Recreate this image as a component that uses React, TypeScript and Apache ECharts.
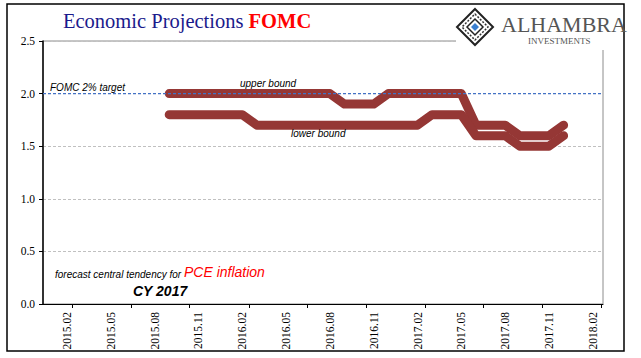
import React, { useEffect, useRef } from "react";
import * as echarts from "echarts";

// month index: 0 = 2015.02
const monthIndex = [7, 8, 9, 10, 11, 12, 13, 14, 15, 16, 17, 18, 19, 20, 21, 22, 23, 24, 25, 26, 27, 28, 29, 30, 31, 32, 33, 34];
const upperBound = [2.0, 2.0, 2.0, 2.0, 2.0, 2.0, 2.0, 2.0, 2.0, 2.0, 2.0, 2.0, 1.9, 1.9, 1.9, 2.0, 2.0, 2.0, 2.0, 2.0, 2.0, 1.7, 1.7, 1.7, 1.6, 1.6, 1.6, 1.7];
const lowerBound = [1.8, 1.8, 1.8, 1.8, 1.8, 1.8, 1.7, 1.7, 1.7, 1.7, 1.7, 1.7, 1.7, 1.7, 1.7, 1.7, 1.7, 1.7, 1.8, 1.8, 1.8, 1.6, 1.6, 1.6, 1.5, 1.5, 1.5, 1.6];
const labelValues = [0, 3, 6, 9, 12, 15, 18, 21, 24, 27, 30, 33, 36];
const tickLabels = ["2015.02", "2015.05", "2015.08", "2015.11", "2016.02", "2016.05", "2016.08", "2016.11", "2017.02", "2017.05", "2017.08", "2017.11", "2018.02"];
const tickValues = [0.34, 4.4, 8.4, 12.45, 16.45, 20.5, 24.55, 28.5, 32.55, 36.6];
const targetValue = 2.0;
const xMin = -1.64;
const xMax = 36.7;

export default function App() {
  const ref = useRef<HTMLDivElement>(null);
  useEffect(() => {
    if (!ref.current) return;
    const chart = echarts.init(ref.current, null, { renderer: "svg" });
    const lineColor = "#953735";
    const grey = "#c0c0c0";
    const labelMap: Record<string, string> = {};
    labelValues.forEach((v, i) => (labelMap[String(v)] = tickLabels[i]));
    chart.setOption({
      animation: false,
      backgroundColor: "#ffffff",
      grid: {
        left: 43,
        right: 38,
        top: 41,
        bottom: 54,
        show: true,
        borderColor: "#8c8c8c",
        borderWidth: 1,
      },
      xAxis: {
        type: "value",
        min: xMin,
        max: xMax,
        axisLine: { show: true, onZero: false, lineStyle: { color: "#000", width: 1 } },
        axisTick: { show: true, length: 4, lineStyle: { color: "#000" }, customValues: tickValues },
        splitLine: { show: false },
        axisLabel: {
          customValues: labelValues,
          rotate: 90,
          margin: 8,
          fontFamily: "Liberation Serif",
          fontSize: 11.5,
          color: "#000",
          formatter: (v: number) => labelMap[String(v)] ?? "",
        },
      },
      yAxis: {
        type: "value",
        min: 0,
        max: 2.5,
        interval: 0.5,
        axisLine: { show: true, onZero: false, lineStyle: { color: "#000", width: 1.5 } },
        axisTick: { show: true, length: 4, lineStyle: { color: "#000" } },
        axisLabel: {
          fontFamily: "Liberation Serif",
          fontSize: 11.5,
          color: "#000",
          margin: 8,
          formatter: (v: number) => v.toFixed(1),
        },
        splitLine: {
          show: true,
          lineStyle: { color: [grey, grey, grey, grey, "rgba(0,0,0,0)", grey], type: [3, 2], width: 1 },
        },
      },
      series: [
        {
          type: "line",
          name: "target",
          data: [[xMin, targetValue], [xMax, targetValue]],
          showSymbol: false,
          color: "#4472c4",
          lineStyle: { color: "#4472c4", width: 1.2, type: [3, 2] },
          z: 4,
          silent: true,
        },
        {
          type: "line",
          name: "upper bound",
          data: monthIndex.map((m, i) => [m, upperBound[i]]),
          showSymbol: false,
          color: lineColor,
          lineStyle: { color: lineColor, width: 9, cap: "round", join: "round" },
          z: 3,
        },
        {
          type: "line",
          name: "lower bound",
          data: monthIndex.map((m, i) => [m, lowerBound[i]]),
          showSymbol: false,
          color: lineColor,
          lineStyle: { color: lineColor, width: 9, cap: "round", join: "round" },
          z: 3,
        },
      ],
      graphic: [
        {
          type: "rect",
          shape: { x: 7, y: 4, width: 617, height: 347 },
          style: { fill: "none", stroke: "#000", lineWidth: 1.5 },
          z: 10,
        },
        {
          type: "rect",
          shape: { x: 456, y: 5, width: 167, height: 45 },
          style: { fill: "#fff" },
          z: 20,
        },
        {
          type: "text",
          left: 63,
          top: 10,
          z: 21,
          style: {
            text: "{a|Economic Projections }{b|FOMC}",
            rich: {
              a: { fontFamily: "Liberation Serif", fontSize: 20.5, fill: "#1a1a8c" },
              b: { fontFamily: "Liberation Serif", fontSize: 20.5, fontWeight: "bold", fill: "#ff0000" },
            },
          },
        },
        {
          type: "polygon",
          shape: { points: [[475, 9], [493, 27], [475, 45], [457, 27]] },
          style: { fill: "#fff", stroke: "#222", lineWidth: 2 },
          z: 21,
        },
        {
          type: "polygon",
          shape: { points: [[475, 14], [488, 27], [475, 40], [462, 27]] },
          style: { fill: "none", stroke: "#333", lineWidth: 1.5, lineDash: [2, 1.5] },
          z: 21,
        },
        {
          type: "polygon",
          shape: { points: [[475, 19], [483, 27], [475, 35], [467, 27]] },
          style: { fill: "none", stroke: "#222", lineWidth: 1.5 },
          z: 21,
        },
        {
          type: "polygon",
          shape: { points: [[475, 23], [479, 27], [475, 31], [471, 27]] },
          style: { fill: "#3a7fd0" },
          z: 22,
        },
        {
          type: "text",
          left: 501,
          top: 13,
          z: 21,
          style: { text: "ALHAMBRA", fontFamily: "Liberation Serif", fontSize: 22, fill: "#555" },
        },
        {
          type: "text",
          left: 528,
          top: 36,
          z: 21,
          style: { text: "INVESTMENTS", fontFamily: "Liberation Serif", fontSize: 9, fill: "#555" },
        },
        {
          type: "text",
          left: 50,
          top: 82,
          z: 21,
          style: { text: "FOMC 2% target", fontFamily: "Liberation Sans", fontStyle: "italic", fontSize: 10, fill: "#000" },
        },
        {
          type: "text",
          left: 240,
          top: 78,
          z: 21,
          style: { text: "upper bound", fontFamily: "Liberation Sans", fontStyle: "italic", fontSize: 10, fill: "#000" },
        },
        {
          type: "text",
          left: 291,
          top: 128,
          z: 21,
          style: { text: "lower bound", fontFamily: "Liberation Sans", fontStyle: "italic", fontSize: 10, fill: "#000" },
        },
        {
          type: "text",
          left: 55,
          top: 265,
          z: 21,
          style: {
            text: "{a|forecast central tendency for }{b|PCE inflation}",
            rich: {
              a: { fontFamily: "Liberation Sans", fontStyle: "italic", fontSize: 10, fill: "#000", verticalAlign: "bottom" },
              b: { fontFamily: "Liberation Sans", fontStyle: "italic", fontSize: 14, fill: "#ff0000", verticalAlign: "bottom" },
            },
          },
        },
        {
          type: "text",
          left: 133,
          top: 284,
          z: 21,
          style: { text: "CY 2017", fontFamily: "Liberation Sans", fontStyle: "italic", fontWeight: "bold", fontSize: 14, fill: "#000" },
        },
      ],
    });
    return () => chart.dispose();
  }, []);
  return (
    <div
      ref={ref}
      style={{ position: "absolute", left: 0, top: 0, width: 641, height: 358 }}
    />
  );
}
